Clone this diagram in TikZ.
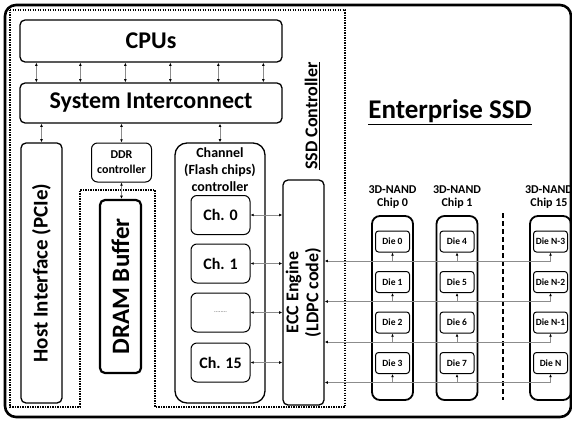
\documentclass[tikz,border=0pt]{standalone}
\usepackage{fontspec}
\setmainfont{Carlito}
\usepackage{xcolor}
\usetikzlibrary{positioning,arrows.meta}
\definecolor{wire}{HTML}{8C8C8C}
\newcommand{\setfs}[2]{\bfseries\fontsize{#1}{#2}\selectfont}

\begin{document}
\begin{tikzpicture}[x=1pt,y=-1pt,>={Latex[length=3.2pt,width=2.8pt,black]}]
    \tikzstyle{blk}=[draw,line width=1.3pt,rounded corners=5pt,inner sep=0pt,align=center]
    \tikzstyle{chbox}=[draw,line width=1pt,rounded corners=6pt,minimum width=59,minimum height=39,
                   inner sep=0pt,font=\setfs{16}{18}]
    \tikzstyle{chip}=[draw,line width=1.8pt,rounded corners=8pt,minimum width=41,minimum height=184]
    \tikzstyle{die}=[draw,line width=1pt,rounded corners=3pt,minimum width=34,minimum height=21,
                   inner sep=0pt,font=\setfs{9.5}{11}]
    \tikzstyle{link}=[<->,wire,line width=0.8pt]
    \tikzstyle{bus}=[->,wire,line width=0.8pt]
    \tikzstyle{lbl}=[inner sep=0pt,align=center]
    \useasboundingbox (0,0) rectangle (572,420);

    % frame and controller area
    \draw[line width=2.6pt,rounded corners=11pt] (5,5) rectangle (571,417);
    \draw[line width=1.6pt,dash pattern=on 1.4pt off 1.1pt]
      (10,10) -- (345,10) -- (345,407) -- (155,407) -- (155,190) -- (80,190) -- (80,407) -- (10,407) -- cycle;

    \node[blk,minimum width=262,minimum height=42,font=\setfs{24}{28}] (cpu) at (151,41) {CPUs};
    \node[blk,minimum width=262,minimum height=40,font=\setfs{24}{28}] (sic) at (151,103) {System Interconnect};
    \foreach \d in {17,61,106,151,199,244}
      \draw[link] ([xshift=\d pt]cpu.south west) -- ([xshift=\d pt]sic.north west);

    \node[blk,minimum width=41,minimum height=260] (host) at (41.5,273) {};
    \node[lbl,rotate=90,font=\setfs{21}{24}] (hostlbl) at (host) {Host Interface (PCIe)};
    \node[blk,line width=1pt,rounded corners=6pt,minimum width=60,minimum height=39,
          font=\setfs{12}{15}] (ddr) at (121.5,162.5) {DDR\\controller};
    \node[blk,line width=2.2pt,minimum width=41,minimum height=173] (dram) at (120.5,286.5) {};
    \node[lbl,rotate=90,font=\setfs{25}{28}] (dramlbl) at (dram) {DRAM Buffer};

    \node[blk,rounded corners=12pt,minimum width=90,minimum height=260] (chan) at (220,273) {};
    \node[lbl,font=\setfs{14}{17}] (chanlbl) at (220,170) {Channel\\(Flash chips)\\controller};
    \node[chbox] (ch0)  at (220.5,215)   {Ch. 0};
    \node[chbox] (ch1)  at (220.5,263.5) {Ch. 1};
    \node[chbox,font=\setfs{6}{7}\color{gray}] (chx) at (220.5,312.5) {........};
    \node[chbox] (ch15) at (220.5,362.5) {Ch. 15};

    \node[blk,minimum width=41,minimum height=225] (ecc) at (303.5,292.5) {};
    \node[lbl,rotate=90,font=\setfs{18}{20}] (ecclbl) at (ecc) {ECC Engine\\(LDPC code)};
    \node[lbl,rotate=90,font=\setfs{18}{20}] (ctrllbl) at (312,116) {\underline{SSD Controller}};
    \node[lbl,font=\setfs{27}{30}] (title) at (450,112) {\underline{Enterprise SSD}};

    \foreach \n in {host,ddr,chan} \draw[link] (\n.north |- sic.south) -- (\n.north);
    \draw[link] (ddr.south) -- (ddr.south |- dram.north);
    \foreach \n in {ch0,ch1,chx,ch15} \draw[link] (\n.east) -- (\n.east -| ecc.west);

    % flash chips
    \foreach \k/\x/\lx in {0/392.5/392.5,1/457/457,15/550.5/549} {
      \node[chip] (chip\k) at (\x,308) {};
      \node[lbl,font=\setfs{12}{13}] (nand\k) at (\lx,197) {3D-NAND\\Chip \k};
    }
    \draw[line width=1.2pt,dash pattern=on 5pt off 3pt] (503,213) -- (503,400);

    \foreach \r/\la/\lb/\lc in {0/0/4/N-3,1/1/5/N-2,2/2/6/N-1,3/3/7/N} {
      \node[die] (da\r) at (392.5,{241.5+40.5*\r}) {Die \la};
      \node[die] (db\r) at (457,{241.5+40.5*\r})   {Die \lb};
      \node[die] (dc\r) at (550.5,{241.5+40.5*\r}) {Die \lc};
      \coordinate (row\r) at ([yshift=-19.5pt]dc\r.center);
      \draw[bus] (row\r) -- (row\r -| ecc.east);
      \foreach \m in {a,b,c} \draw[bus] (d\m\r.south |- row\r) -- (d\m\r.south);
    }
\end{tikzpicture}
\end{document}
